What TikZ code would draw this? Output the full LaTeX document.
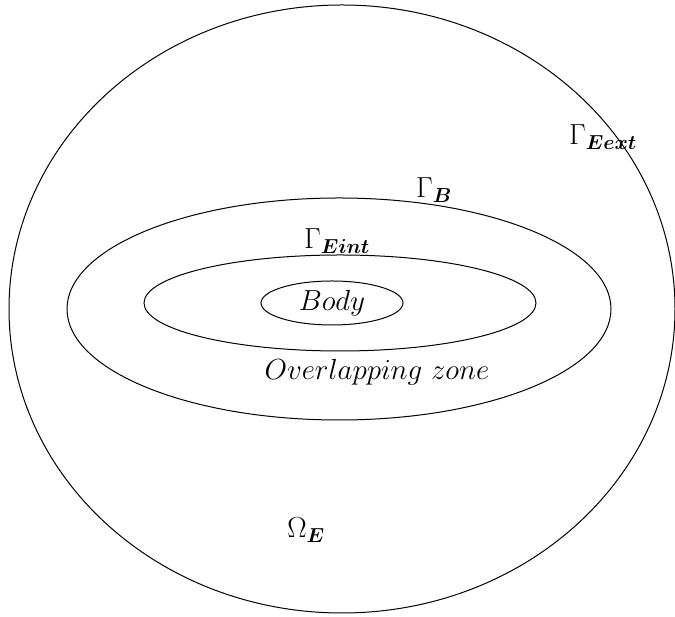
\RequirePackage{fix-cm}
\documentclass[tikz,border=0pt]{standalone}
\usepackage{amsmath,amssymb}
\usepackage{bm}
\usepackage{tikz}
\usetikzlibrary{shapes.geometric}

\begin{document}
\begin{tikzpicture}[
  x=1pt, y=1pt,
  zone/.style={ellipse, draw=black, line width=1pt, inner sep=0pt},
  lbl/.style={inner sep=0pt, font=\fontsize{29}{33}\selectfont}
]
\useasboundingbox (0,0) rectangle (675,617);

% Domains (image y flipped)
\node[zone, minimum width=666, minimum height=608] (ext) at (342,308) {};
\node[zone, minimum width=544, minimum height=222] (gb) at (339,308) {};
\node[zone, minimum width=392, minimum height=96] (eint) at (340,314) {};
\node[zone, minimum width=142, minimum height=44, lbl] (body) at (332,314) {$Body$};

% Labels
\node[lbl] (lext) at (603,480) {$\Gamma_{\bm{Eext}}$};
\node[lbl] (lb) at (434,427) {$\Gamma_{\bm{B}}$};
\node[lbl] (lint) at (337,376) {$\Gamma_{\bm{Eint}}$};
\node[lbl] (overlap) at (377,245) {$Overlapping\ zone$};
\node[lbl] (omega) at (306,87) {$\Omega_{\bm{E}}$};

\end{tikzpicture}
\end{document}
